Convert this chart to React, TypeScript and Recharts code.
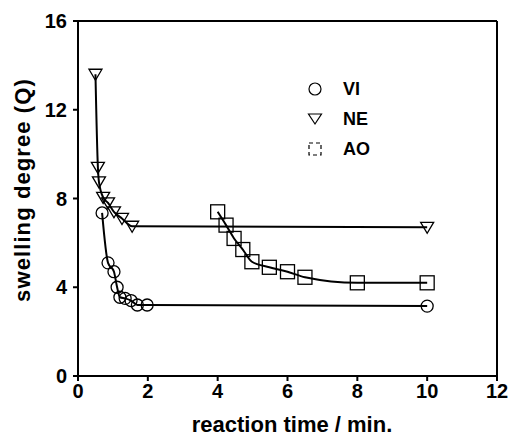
import { ComposedChart, Line, XAxis, YAxis, ReferenceLine, Label } from "recharts"

// VI (circles)
const viTime = [0.69, 0.86, 1.03, 1.12, 1.2, 1.35, 1.52, 1.7, 1.98, 10]
const viQ = [7.35, 5.1, 4.7, 4.0, 3.55, 3.5, 3.4, 3.2, 3.2, 3.15]

// NE (triangles)
const neTime = [0.5, 0.57, 0.6, 0.72, 0.86, 1.03, 1.26, 1.55, 10]
const neQ = [13.6, 9.4, 8.75, 8.05, 7.8, 7.4, 7.1, 6.75, 6.7]

// AO (squares)
const aoTime = [4.0, 4.24, 4.47, 4.72, 4.98, 5.48, 6.0, 6.5, 8.0, 10]
const aoQ = [7.4, 6.8, 6.2, 5.7, 5.15, 4.9, 4.7, 4.45, 4.2, 4.2]

const xTicks = [0, 2, 4, 6, 8, 10, 12]
const yTicks = [0, 4, 8, 12, 16]

const viData = viTime.map((t, i) => ({ t, q: viQ[i] }))
const neData = neTime.map((t, i) => ({ t, q: neQ[i] }))
const aoData = aoTime.map((t, i) => ({ t, q: aoQ[i] }))

const font = "'Liberation Sans', Arial, sans-serif"

const Circle = (p: any) => (
  <circle key={p.index} cx={p.cx} cy={p.cy} r={6} fill="none" stroke="#000" strokeWidth={1.3} />
)
const Tri = (p: any) => (
  <polygon
    key={p.index}
    points={`${p.cx - 6.5},${p.cy - 5} ${p.cx + 6.5},${p.cy - 5} ${p.cx},${p.cy + 6}`}
    fill="none"
    stroke="#000"
    strokeWidth={1.3}
  />
)
const Sq = (p: any) => (
  <rect key={p.index} x={p.cx - 7} y={p.cy - 7} width={14} height={14} fill="none" stroke="#000" strokeWidth={1.3} />
)

const tickStyle = { fontFamily: font, fontSize: 20, fontWeight: 700, fill: "#000" }

export default function App() {
  const legend = [
    { name: "VI", icon: <circle cx={8} cy={8} r={6} fill="none" stroke="#000" strokeWidth={1.2} /> },
    { name: "NE", icon: <polygon points="1.5,3 14.5,3 8,13" fill="none" stroke="#000" strokeWidth={1.2} /> },
    { name: "AO", icon: <rect x={2} y={2} width={12} height={12} fill="none" stroke="#000" strokeWidth={1.2} strokeDasharray="4 3" /> },
  ]

  return (
    <div style={{ position: "absolute", left: 0, top: 0, width: 510, height: 437, background: "#fff" }}>
      <ComposedChart width={510} height={437} margin={{ top: 21, right: 13, bottom: 0, left: 0 }}>
        <XAxis
          dataKey="t"
          type="number"
          domain={[0, 12]}
          ticks={xTicks}
          height={61}
          tickSize={5}
          tickMargin={3}
          stroke="#000"
          strokeWidth={2}
          tick={tickStyle}
          allowDuplicatedCategory={false}
        >
          <Label
            content={() => (
              <text x={292} y={432} textAnchor="middle" fontFamily={font} fontSize={22} fontWeight={700} fill="#000">
                reaction time / min.
              </text>
            )}
          />
        </XAxis>
        <YAxis
          dataKey="q"
          type="number"
          domain={[0, 16]}
          ticks={yTicks}
          width={78}
          tickSize={5}
          tickMargin={6}
          stroke="#000"
          strokeWidth={2}
          tick={tickStyle}
        >
          <Label
            content={() => (
              <text
                x={22}
                y={190}
                transform="rotate(-90 22 190)"
                textAnchor="middle"
                dominantBaseline="central"
                fontFamily={font}
                fontSize={22}
                fontWeight={700}
                letterSpacing={1.1}
                fill="#000"
              >
                swelling degree (Q)
              </text>
            )}
          />
        </YAxis>
        <ReferenceLine y={16} stroke="#000" strokeWidth={2} />
        <ReferenceLine x={12} stroke="#000" strokeWidth={2} />
        <Line data={neData} dataKey="q" type="monotone" stroke="#000" strokeWidth={2} dot={Tri} activeDot={false} isAnimationActive={false} />
        <Line data={viData} dataKey="q" type="monotone" stroke="#000" strokeWidth={2} dot={Circle} activeDot={false} isAnimationActive={false} />
        <Line data={aoData} dataKey="q" type="monotone" stroke="#000" strokeWidth={2} dot={Sq} activeDot={false} isAnimationActive={false} />
      </ComposedChart>
      <div style={{ position: "absolute", left: 307, top: 74, fontFamily: font, fontSize: 18, fontWeight: 700 }}>
        {legend.map((l) => (
          <div key={l.name} style={{ display: "flex", alignItems: "center", height: 30 }}>
            <svg width={16} height={16}>{l.icon}</svg>
            <span style={{ marginLeft: 20 }}>{l.name}</span>
          </div>
        ))}
      </div>
    </div>
  )
}
